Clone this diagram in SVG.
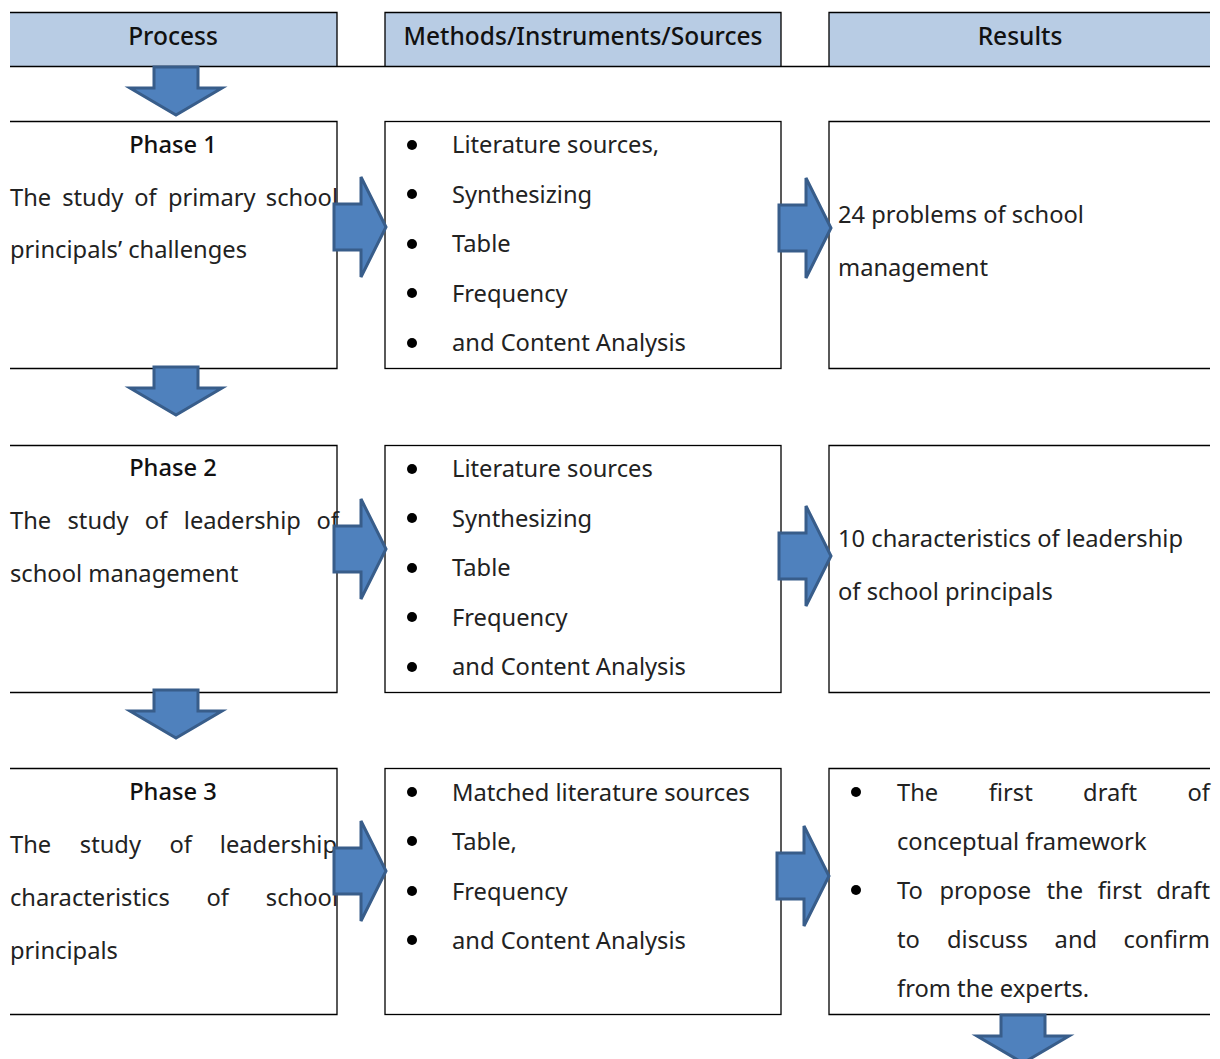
<svg xmlns="http://www.w3.org/2000/svg" width="1220" height="1059" viewBox="0 0 1220 1059">
<defs>
<style>
.t{font-family:"Noto Sans","Open Sans",sans-serif;font-size:23.7px;fill:#222}
.p{font-weight:500;fill:#111;text-anchor:middle}
.h{font-family:"Noto Sans","Open Sans",sans-serif;font-size:24.5px;font-weight:500;fill:#111;text-anchor:middle}
.b{stroke:#000;stroke-width:1.3;fill:none}
.hd{fill:#b8cce4;stroke:none}
.ar{fill:#4f81bd;stroke:#385d8a;stroke-width:3;stroke-linejoin:miter}
</style>
<path id="dn" class="ar" d="M-22,0 H22 V21 H46 L0,48 L-46,21 H-22 Z"/>
<path id="rt" class="ar" d="M0,-23 H27 V-50 L52,0 L27,50 V23 H0 Z"/>
</defs>
<rect width="1220" height="1059" fill="#fff"/>

<g id="headers">
<rect class="hd" x="10" y="12" width="327" height="54"/>
<rect class="hd" x="385" y="12" width="396" height="54"/>
<rect class="hd" x="829" y="12" width="381" height="54"/>
<path class="b" d="M10,12.5 H337 V66 M385,66 V12.5 H781 V66 M829,66 V12.5 H1210 M10,66.5 H1210"/>
<text class="h" x="173" y="45">Process</text>
<text class="h" x="583" y="45">Methods/Instruments/Sources</text>
<text class="h" x="1020" y="45">Results</text>
</g>

<g id="phase1">
<path class="b" d="M10,121.5 H337 V368.5 H10"/>
<text class="t p" x="173" y="153">Phase 1</text>
<text class="t" y="206"><tspan x="10">The</tspan><tspan x="62.2">study</tspan><tspan x="134.2">of</tspan><tspan x="167.9">primary</tspan><tspan x="338" text-anchor="end">school</tspan></text>
<text class="t" x="10" y="258">principals’ challenges</text>
</g>
<g id="methods1">
<rect class="b" x="385" y="121.5" width="396" height="247"/>
<g fill="#000"><circle cx="412" cy="145" r="5"/><circle cx="412" cy="194" r="5"/><circle cx="412" cy="244" r="5"/><circle cx="412" cy="293" r="5"/><circle cx="412" cy="343" r="5"/></g>
<text class="t" x="452" y="153">Literature sources,</text>
<text class="t" x="452" y="203">Synthesizing</text>
<text class="t" x="452" y="252">Table</text>
<text class="t" x="452" y="302">Frequency</text>
<text class="t" x="452" y="351">and Content Analysis</text>
</g>
<g id="results1">
<path class="b" d="M1210,121.5 H829 V368.5 H1210"/>
<text class="t" x="838" y="223">24 problems of school</text>
<text class="t" x="838" y="276">management</text>
</g>

<g id="phase2">
<path class="b" d="M10,445.5 H337 V692.5 H10"/>
<text class="t p" x="173" y="476">Phase 2</text>
<text class="t" y="529"><tspan x="10">The</tspan><tspan x="67.5">study</tspan><tspan x="144.8">of</tspan><tspan x="183.8">leadership</tspan><tspan x="339" text-anchor="end">of</tspan></text>
<text class="t" x="10" y="582">school management</text>
</g>
<g id="methods2">
<rect class="b" x="385" y="445.5" width="396" height="247"/>
<g fill="#000"><circle cx="412" cy="469" r="5"/><circle cx="412" cy="518" r="5"/><circle cx="412" cy="568" r="5"/><circle cx="412" cy="617" r="5"/><circle cx="412" cy="667" r="5"/></g>
<text class="t" x="452" y="477">Literature sources</text>
<text class="t" x="452" y="527">Synthesizing</text>
<text class="t" x="452" y="576">Table</text>
<text class="t" x="452" y="626">Frequency</text>
<text class="t" x="452" y="675">and Content Analysis</text>
</g>
<g id="results2">
<path class="b" d="M1210,445.5 H829 V692.5 H1210"/>
<text class="t" x="838" y="547">10 characteristics of leadership</text>
<text class="t" x="838" y="600">of school principals</text>
</g>

<g id="phase3">
<path class="b" d="M10,768.5 H337 V1014.5 H10"/>
<text class="t p" x="173" y="800">Phase 3</text>
<text class="t" y="853"><tspan x="10">The</tspan><tspan x="79.8">study</tspan><tspan x="169.4">of</tspan><tspan x="337" text-anchor="end">leadership</tspan></text>
<text class="t" y="906"><tspan x="10">characteristics</tspan><tspan x="206.4">of</tspan><tspan x="338" text-anchor="end">school</tspan></text>
<text class="t" x="10" y="959">principals</text>
</g>
<g id="methods3">
<rect class="b" x="385" y="768.5" width="396" height="246"/>
<g fill="#000"><circle cx="412" cy="792" r="5"/><circle cx="412" cy="841" r="5"/><circle cx="412" cy="891" r="5"/><circle cx="412" cy="940" r="5"/></g>
<text class="t" x="452" y="801">Matched literature sources</text>
<text class="t" x="452" y="850">Table,</text>
<text class="t" x="452" y="900">Frequency</text>
<text class="t" x="452" y="949">and Content Analysis</text>
</g>
<g id="results3">
<path class="b" d="M1210,768.5 H829 V1014.5 H1210"/>
<g fill="#000"><circle cx="856" cy="792" r="5"/><circle cx="856" cy="890" r="5"/></g>
<text class="t" y="801"><tspan x="897">The</tspan><tspan x="988.8">first</tspan><tspan x="1083.1">draft</tspan><tspan x="1210" text-anchor="end">of</tspan></text>
<text class="t" x="897" y="850">conceptual framework</text>
<text class="t" y="899"><tspan x="897">To</tspan><tspan x="939.4">propose</tspan><tspan x="1046.5">the</tspan><tspan x="1097.8">first</tspan><tspan x="1210" text-anchor="end">draft</tspan></text>
<text class="t" y="948"><tspan x="897">to</tspan><tspan x="947">discuss</tspan><tspan x="1054.6">and</tspan><tspan x="1210" text-anchor="end">confirm</tspan></text>
<text class="t" x="897" y="997">from the experts.</text>
</g>

<g id="connectors">
<use href="#dn" x="176" y="67"/>
<use href="#dn" x="176" y="367"/>
<use href="#dn" x="176" y="690"/>
<use href="#dn" x="1023" y="1015"/>
<use href="#rt" x="334" y="227"/>
<use href="#rt" x="779" y="228"/>
<use href="#rt" x="334" y="549"/>
<use href="#rt" x="779" y="556"/>
<use href="#rt" x="334" y="871"/>
<use href="#rt" x="777" y="876"/>
</g>
</svg>
